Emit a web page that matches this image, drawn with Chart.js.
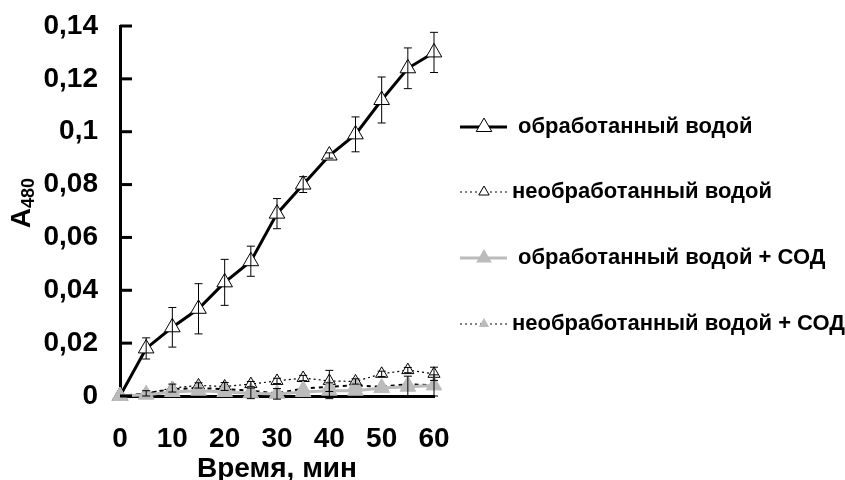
<!DOCTYPE html>
<html>
  <head>
    <title>A480</title>
    <script src="https://cdn.jsdelivr.net/npm/chart.js"></script>
    <style>
      body { margin: 0; background: #fff; }
      #wrap { width: 845px; height: 480px; }
    </style>
  </head>
  <body>
    <div id="wrap">
      <canvas id="myChart" width="845" height="480"></canvas>
    </div>
    <script>
      'use strict'
      const minutes = [0, 5, 10, 15, 20, 25, 30, 35, 40, 45, 50, 55, 60];
      const treated = [0, 0.018, 0.026, 0.033, 0.043, 0.051, 0.069, 0.080, 0.091, 0.099, 0.112, 0.124, 0.130];
      const treatedErr = [0, 0.004, 0.0075, 0.0095, 0.0087, 0.0057, 0.0057, 0.003, 0.001, 0.0066, 0.0087, 0.0077, 0.0076];
      const untreated = [0, 0.001, 0.003, 0.004, 0.0036, 0.0045, 0.0057, 0.0068, 0.0057, 0.0055, 0.0084, 0.0098, 0.0084];
      const untreatedErr = [0, 0.001, 0.0015, 0.001, 0.0015, 0.001, 0.001, 0.001, 0.004, 0.001, 0.001, 0.001, 0.0025];
      const treatedSod = [0, 0.0005, 0.0015, 0.002, 0.0015, 0.001, 0.0008, 0.0015, 0.002, 0.002, 0.003, 0.0035, 0.004];
      const treatedSodErr = [0, 0, 0, 0, 0, 0.002, 0.002, 0, 0.003, 0, 0, 0.004, 0.004];
      const untreatedSod = [0, 0.001, 0.0026, 0.003, 0.0026, 0.002, 0.001, 0.0028, 0.0035, 0.004, 0.0035, 0.0045, 0.004];
      const seriesNames = ['обработанный водой', 'необработанный водой', 'обработанный водой + СОД', 'необработанный водой + СОД'];
      const yTickLabels = ['0', '0,02', '0,04', '0,06', '0,08', '0,1', '0,12', '0,14'];
      const xTitle = 'Время, мин';
      const yTitleMain = 'A';
      const yTitleSub = '480';

      const gray = '#bbbbbb';
      const font = 'Liberation Sans';

      function pts(values) {
        return minutes.map((m, i) => ({ x: m, y: values[i] }));
      }

      const errors = [treatedErr, untreatedErr, treatedSodErr, null];

      // error bars, inward y ticks, y title with subscript and the legend on the right
      const extras = {
        id: 'extras',
        afterDatasetsDraw(chart) {
          const ctx = chart.ctx;
          const xs = chart.scales.x;
          const ys = chart.scales.y;
          ctx.save();
          errors.forEach((errs, di) => {
            if (!errs) return;
            const data = chart.data.datasets[di].data;
            ctx.strokeStyle = '#000';
            ctx.lineWidth = 1;
            data.forEach((p, i) => {
              if (!errs[i]) return;
              const x = xs.getPixelForValue(p.x);
              const y1 = ys.getPixelForValue(p.y + errs[i]);
              const y2 = ys.getPixelForValue(p.y - errs[i]);
              ctx.beginPath();
              ctx.moveTo(x, y1); ctx.lineTo(x, y2);
              ctx.moveTo(x - 4, y1); ctx.lineTo(x + 4, y1);
              ctx.moveTo(x - 4, y2); ctx.lineTo(x + 4, y2);
              ctx.stroke();
            });
          });
          ctx.strokeStyle = '#000';
          ctx.lineWidth = 3;
          ys.ticks.forEach(t => {
            const y = ys.getPixelForValue(t.value);
            ctx.beginPath();
            ctx.moveTo(xs.left, y);
            ctx.lineTo(xs.left + 12, y);
            ctx.stroke();
          });
          ctx.restore();
        },
        afterDraw(chart) {
          const ctx = chart.ctx;
          const area = chart.chartArea;
          ctx.save();

          // y title: A with subscript 480
          ctx.translate(22, (area.top + area.bottom) / 2 - 8);
          ctx.rotate(-Math.PI / 2);
          ctx.fillStyle = '#000';
          ctx.textBaseline = 'middle';
          ctx.font = 'bold 28px "' + font + '"';
          const wA = ctx.measureText(yTitleMain).width;
          ctx.font = 'bold 18px "' + font + '"';
          const wS = ctx.measureText(yTitleSub).width;
          const x0 = -(wA + wS) / 2;
          ctx.font = 'bold 28px "' + font + '"';
          ctx.fillText(yTitleMain, x0, 0);
          ctx.font = 'bold 18px "' + font + '"';
          ctx.fillText(yTitleSub, x0 + wA, 7);
          ctx.setTransform(1, 0, 0, 1, 0, 0);

          const rows = [127, 192, 258, 324];
          const textX = [518, 512, 518, 512];
          chart.data.datasets.forEach((ds, i) => {
            const y = rows[i];
            ctx.beginPath();
            ctx.strokeStyle = ds.borderColor;
            ctx.lineWidth = ds.legendLine[0];
            ctx.setLineDash(ds.legendLine[1]);
            ctx.moveTo(460, y);
            ctx.lineTo(507, y);
            ctx.stroke();
            ctx.setLineDash([]);
            const r = ds.legendRadius;
            ctx.beginPath();
            ctx.moveTo(484, y - r);
            ctx.lineTo(484 + r * 0.866, y + r * 0.5);
            ctx.lineTo(484 - r * 0.866, y + r * 0.5);
            ctx.closePath();
            ctx.fillStyle = ds.pointBackgroundColor;
            ctx.fill();
            if (ds.pointBorderColor !== ds.pointBackgroundColor) {
              ctx.strokeStyle = ds.pointBorderColor;
              ctx.lineWidth = 1;
              ctx.stroke();
            }
            ctx.fillStyle = '#000';
            ctx.font = 'bold 22px "' + font + '"';
            ctx.textBaseline = 'middle';
            ctx.fillText(ds.label, textX[i], y);
          });
          ctx.restore();
        }
      };

      new Chart(document.getElementById('myChart'), {
        type: 'line',
        data: {
          datasets: [
            {
              label: seriesNames[0], data: pts(treated),
              borderColor: '#000', borderWidth: 3,
              pointStyle: 'triangle', pointRadius: 9,
              pointBackgroundColor: '#fff', pointBorderColor: '#000', pointBorderWidth: 1,
              legendRadius: 9, legendLine: [3, []], order: 2
            },
            {
              label: seriesNames[1], data: pts(untreated),
              borderColor: '#000', borderWidth: 1.2, borderDash: [2, 3],
              pointStyle: 'triangle', pointRadius: 7,
              pointBackgroundColor: '#fff', pointBorderColor: '#000', pointBorderWidth: 1,
              legendRadius: 6, legendLine: [1.2, [2, 3]], order: 3
            },
            {
              label: seriesNames[2], data: pts(treatedSod),
              borderColor: gray, borderWidth: 3,
              pointStyle: 'triangle', pointRadius: 9,
              pointBackgroundColor: gray, pointBorderColor: gray, pointBorderWidth: 1,
              legendRadius: 9, legendLine: [3, []], order: 0
            },
            {
              label: seriesNames[3], data: pts(untreatedSod),
              borderColor: '#000', borderWidth: 2, borderDash: [4, 4],
              pointStyle: 'triangle', pointRadius: 8,
              pointBackgroundColor: gray, pointBorderColor: gray, pointBorderWidth: 1,
              legendRadius: 6, legendLine: [1.2, [2, 3]], order: 1
            }
          ]
        },
        options: {
          responsive: false,
          animation: false,
          clip: false,
          layout: { padding: { top: 26, right: 411, left: 0, bottom: 0 } },
          plugins: { legend: { display: false }, tooltip: { enabled: false } },
          scales: {
            x: {
              type: 'linear', min: 0, max: 60,
              afterFit: s => { s.height = 84; s.paddingLeft = 0; s.paddingRight = 0; },
              grid: { display: false, drawTicks: false },
              border: { color: '#000', width: 3 },
              ticks: { stepSize: 10, padding: 26, color: '#000', font: { family: font, size: 28, weight: 'bold' } },
              title: { display: true, text: xTitle, color: '#000', padding: { top: 0, bottom: -6 }, font: { family: font, size: 28, weight: 'bold' } }
            },
            y: {
              min: 0, max: 0.14,
              afterFit: s => { s.width = 120; s.paddingTop = 0; s.paddingBottom = 0; },
              grid: { display: false, drawTicks: false },
              border: { color: '#000', width: 3 },
              ticks: {
                stepSize: 0.02, padding: 22, color: '#000',
                font: { family: font, size: 28, weight: 'bold' },
                callback: (v, i) => yTickLabels[i]
              }
            }
          }
        },
        plugins: [extras]
      });
    </script>
  </body>
</html>
